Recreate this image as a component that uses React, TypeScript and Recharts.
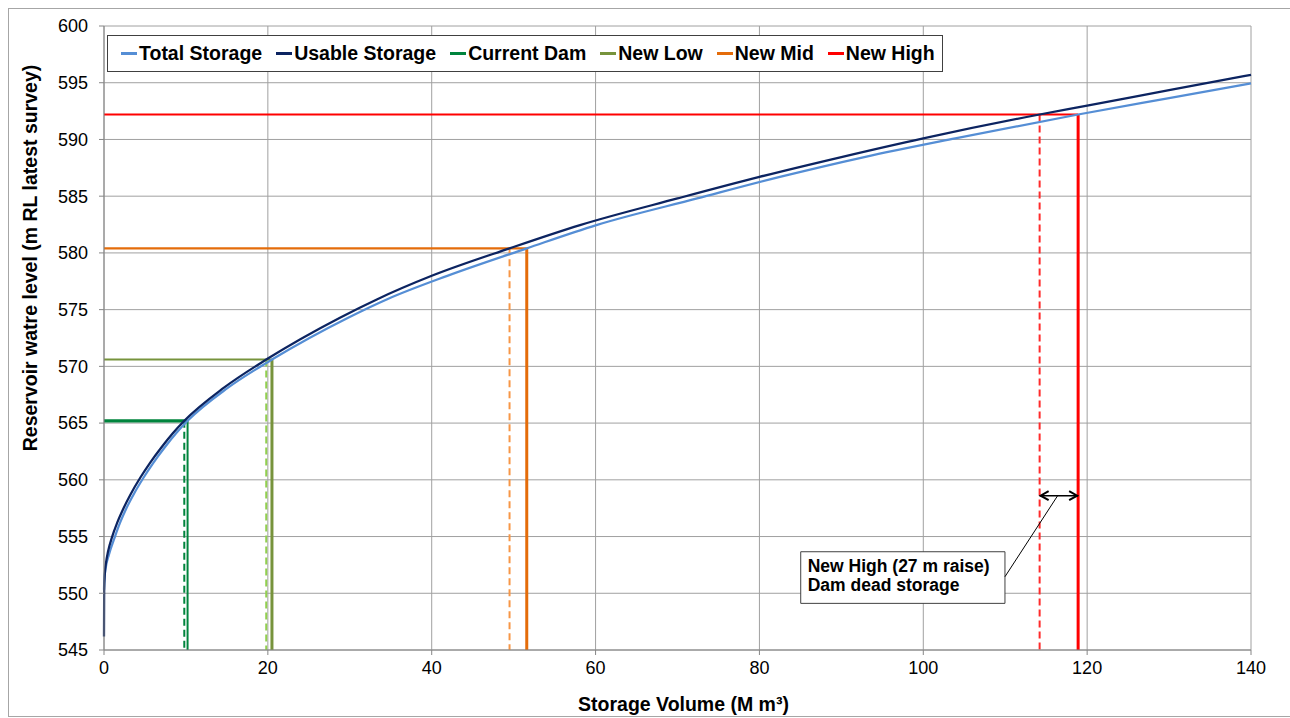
import React from "react"
import {
  LineChart,
  Line,
  XAxis,
  YAxis,
  CartesianGrid,
  Legend,
  ReferenceLine,
  ReferenceArea,
} from "recharts"

const FONT = "'Liberation Sans', Arial, sans-serif"

// axes
const volumeTicks = [0, 20, 40, 60, 80, 100, 120, 140]
const levelTicks = [545, 550, 555, 560, 565, 570, 575, 580, 585, 590, 595, 600]

// storage curves (M m³ vs m RL)
const totalVolume = [0, 0.04, 0.2, 0.6, 1.34, 1.95, 2.75, 3.68, 4.8, 6.0, 7.4, 8.8, 10.2, 15.1, 20.5, 29.8, 34.5, 41.9, 51.6, 60.1, 72.4, 82.5, 92.8, 103.9, 118.9, 130, 140]
const totalLevel = [550.3, 551.2, 552.2, 553.4, 555.0, 556.2, 557.52, 558.8, 560.16, 561.48, 562.85, 564.1, 565.2, 568.1, 570.6, 574.29, 575.9, 577.98, 580.4, 582.45, 584.8, 586.7, 588.45, 590.1, 592.2, 593.65, 594.95]

const usableVolume = [0, 0.02, 0.1, 0.25, 0.5, 1.0, 1.6, 2.4, 3.3, 4.4, 5.6, 7.0, 8.4, 9.8, 14.6, 19.8, 28.8, 33.3, 40, 49.5, 58.1, 70, 80, 90, 100, 114.2, 120, 130, 140]
const usableLevel = [546.2, 550.2, 551.7, 552.7, 553.7, 555.0, 556.2, 557.52, 558.8, 560.16, 561.48, 562.85, 564.1, 565.2, 568.1, 570.6, 574.29, 575.9, 577.98, 580.4, 582.45, 584.8, 586.7, 588.45, 590.1, 592.2, 592.98, 594.35, 595.7]

// dam options
const raiseNames = ["Current Dam", "New Low", "New Mid", "New High"]
const raiseLevel = [565.2, 570.6, 580.4, 592.2]
const raiseUsable = [9.8, 19.8, 49.5, 114.2]
const raiseTotal = [10.2, 20.5, 51.6, 118.9]
const raiseColor = ["#00843d", "#77933c", "#e46c0a", "#ff0000"]
const raiseDashColor = ["#00843d", "#92d050", "#f79646", "#ff2b2b"]
const raiseHWidth = [3.2, 2, 2.2, 2]
const raiseVWidth = [2, 3, 3, 3]

// annotation
const deadStorageLevel = 558.6
const noteLines = ["New High (27 m raise)", "Dam dead storage"]

const legendNames = ["Total Storage", "Usable Storage", ...raiseNames]
const legendColors = ["#558ed5", "#0c2461", ...raiseColor]

const toPoints = (vs: number[], ls: number[]) => vs.map((v, i) => ({ v, l: ls[i] }))

const totalData = toPoints(totalVolume, totalLevel)
const usableData = toPoints(usableVolume, usableLevel)

function LegendBox() {
  return (
    <div
      style={{
        display: "flex",
        alignItems: "center",
        height: 35,
        border: "1px solid #404040",
        background: "#fff",
        padding: "0 7px 0 13px",
        whiteSpace: "nowrap",
        fontFamily: FONT,
        fontWeight: 700,
        fontSize: 19.5,
        color: "#000",
      }}
    >
      {legendNames.map((name, i) => (
        <div key={name} style={{ display: "flex", alignItems: "center", marginRight: i < legendNames.length - 1 ? 14 : 0 }}>
          <span style={{ display: "inline-block", width: 16, height: 3, background: legendColors[i], marginRight: 2 }} />
          <span>{name}</span>
        </div>
      ))}
    </div>
  )
}

const arrowShape = (p: any) => {
  const { x1, y1, x2, y2 } = p
  const h = 9
  const w = 4.5
  return (
    <g stroke="#000" fill="none">
      <line x1={x1} y1={y1} x2={x2} y2={y2} strokeWidth={1.5} />
      <polyline points={`${x1 + h},${y1 - w} ${x1 + 1},${y1} ${x1 + h},${y1 + w}`} strokeWidth={2} />
      <polyline points={`${x2 - h},${y2 - w} ${x2 - 1},${y2} ${x2 - h},${y2 + w}`} strokeWidth={2} />
    </g>
  )
}

export default function App() {
  return (
    <div
      style={{
        position: "absolute",
        left: 8,
        top: 8,
        width: 1282,
        height: 709,
        borderTop: "1px solid #a6a6a6",
        borderLeft: "1px solid #a6a6a6",
        borderBottom: "1px solid #a6a6a6",
        boxSizing: "border-box",
        background: "#fff",
        overflow: "hidden",
      }}
    >
      <LineChart width={1281} height={706} margin={{ top: 17, right: 39, left: 0, bottom: 25 }}>
        <CartesianGrid stroke="#a0a0a0" strokeWidth={1} />
        <XAxis
          dataKey="v"
          type="number"
          domain={[0, 140]}
          ticks={volumeTicks}
          height={40}
          stroke="#868686"
          tickSize={5}
          tickMargin={6}
          tick={{ fontSize: 18, fill: "#000", fontFamily: FONT }}
          label={(props: any) => {
            const vb = props.viewBox
            return (
              <text
                x={vb.x + vb.width / 2 + 6}
                y={702}
                textAnchor="middle"
                fontFamily={FONT}
                fontWeight={700}
                fontSize={19.5}
                fill="#000"
              >
                Storage Volume (M m³)
              </text>
            )
          }}
        />
        <YAxis
          dataKey="l"
          type="number"
          domain={[545, 600]}
          ticks={levelTicks}
          width={95}
          stroke="#868686"
          tickSize={5}
          tickMargin={11}
          tick={{ fontSize: 18, fill: "#000", fontFamily: FONT }}
          label={(props: any) => {
            const vb = props.viewBox
            const cx = vb.x + 21
            const cy = vb.y + 232
            return (
              <text
                x={cx}
                y={cy}
                dy="0.36em"
                transform={`rotate(-90, ${cx}, ${cy})`}
                textAnchor="middle"
                fontFamily={FONT}
                fontWeight={700}
                fontSize={19.5}
                fill="#000"
              >
                Reservoir watre level (m RL latest survey)
              </text>
            )
          }}
        />
        <Legend
          layout="vertical"
          align="center"
          verticalAlign="middle"
          wrapperStyle={{ top: 26, left: 98, width: "auto" }}
          content={() => <LegendBox />}
        />

        {raiseNames.map((name, i) => (
          <Line
            key={name + "-h"}
            data={[{ v: 0, l: raiseLevel[i] }, { v: raiseTotal[i], l: raiseLevel[i] }]}
            dataKey="l"
            type="linear"
            stroke={raiseColor[i]}
            strokeWidth={raiseHWidth[i]}
            dot={false}
            activeDot={false}
            legendType="none"
            isAnimationActive={false}
          />
        ))}
        {raiseNames.map((name, i) => (
          <Line
            key={name + "-d"}
            data={[{ v: raiseUsable[i], l: raiseLevel[i] }, { v: raiseUsable[i], l: 545 }]}
            dataKey="l"
            type="linear"
            stroke={raiseDashColor[i]}
            strokeWidth={2}
            strokeDasharray="7 4"
            dot={false}
            activeDot={false}
            legendType="none"
            isAnimationActive={false}
          />
        ))}
        {raiseNames.map((name, i) => (
          <Line
            key={name + "-v"}
            data={[{ v: raiseTotal[i], l: raiseLevel[i] }, { v: raiseTotal[i], l: 545 }]}
            dataKey="l"
            type="linear"
            stroke={raiseColor[i]}
            strokeWidth={raiseVWidth[i]}
            dot={false}
            activeDot={false}
            legendType="none"
            isAnimationActive={false}
          />
        ))}

        <Line
          data={totalData}
          dataKey="l"
          name="Total Storage"
          type="monotone"
          stroke="#558ed5"
          strokeWidth={2.25}
          dot={false}
          activeDot={false}
          isAnimationActive={false}
        />
        <Line
          data={usableData}
          dataKey="l"
          name="Usable Storage"
          type="monotone"
          stroke="#0c2461"
          strokeWidth={2.25}
          dot={false}
          activeDot={false}
          isAnimationActive={false}
        />

        <ReferenceLine
          segment={[
            { x: 109.97, y: 551.46 },
            { x: 116.4, y: deadStorageLevel },
          ]}
          stroke="#000"
          strokeWidth={1}
        />
        <ReferenceLine
          segment={[
            { x: raiseUsable[3], y: deadStorageLevel },
            { x: raiseTotal[3], y: deadStorageLevel },
          ]}
          shape={arrowShape}
        />
        <ReferenceArea
          x1={85.04}
          x2={109.97}
          y1={549.11}
          y2={553.66}
          fill="#fff"
          fillOpacity={1}
          stroke="#404040"
          strokeWidth={1}
          label={(props: any) => {
            const vb = props.viewBox
            return (
              <g fontFamily={FONT} fontWeight={700} fontSize={17.5} fill="#000">
                <text x={vb.x + 7} y={vb.y + 20.6}>{noteLines[0]}</text>
                <text x={vb.x + 7} y={vb.y + 39}>{noteLines[1]}</text>
              </g>
            )
          }}
        />
      </LineChart>
    </div>
  )
}
